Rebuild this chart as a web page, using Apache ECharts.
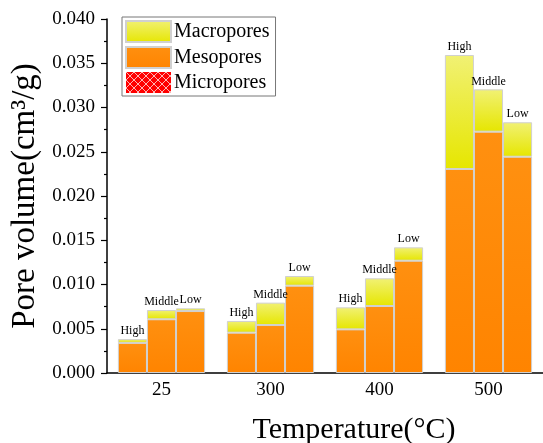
<!DOCTYPE html>
<html>
<head>
<meta charset="utf-8">
<script src="https://cdn.jsdelivr.net/npm/echarts@6/dist/echarts.min.js"></script>
<style>html,body{margin:0;padding:0;background:#fff}#c{width:543px;height:443px}</style>
</head>
<body>
<div id="c"></div>
<script>
const categories = ['25', '300', '400', '500'];
const levels = ['High', 'Middle', 'Low'];
const microHigh = [0, 0, 0, 0];
const microMiddle = [0, 0, 0, 0];
const microLow = [0, 0, 0, 0];
const mesoHigh = [0.00340, 0.00456, 0.00493, 0.02305];
const mesoMiddle = [0.00607, 0.00542, 0.00757, 0.02727];
const mesoLow = [0.00700, 0.00987, 0.01269, 0.02444];
const macroHigh = [0.00043, 0.00132, 0.00249, 0.01288];
const macroMiddle = [0.00105, 0.00253, 0.00313, 0.00478];
const macroLow = [0.00031, 0.00109, 0.00151, 0.00389];
const yTicks = [0, 0.005, 0.01, 0.015, 0.02, 0.025, 0.03, 0.035, 0.04];

const FONT = 'Liberation Serif';
const micro = {High: microHigh, Middle: microMiddle, Low: microLow};
const meso = {High: mesoHigh, Middle: mesoMiddle, Low: mesoLow};
const macro = {High: macroHigh, Middle: macroMiddle, Low: macroLow};

// crosshatch pattern for micropores
const pc = document.createElement('canvas');
pc.width = 8; pc.height = 8;
const px = pc.getContext('2d');
px.fillStyle = '#ff0000'; px.fillRect(0, 0, 8, 8);
px.strokeStyle = 'rgba(255,200,200,0.9)'; px.lineWidth = 1;
px.beginPath(); px.moveTo(0, 0); px.lineTo(8, 8); px.moveTo(8, 0); px.lineTo(0, 8); px.stroke();

const macroColor = {type: 'linear', x: 0, y: 0, x2: 0, y2: 1,
  colorStops: [{offset: 0, color: '#f1f174'}, {offset: 1, color: '#e6e600'}]};
const mesoColor = {type: 'linear', x: 0, y: 0, x2: 0, y2: 1,
  colorStops: [{offset: 0, color: '#ff9010'}, {offset: 1, color: '#ff8400'}]};

const series = [];
levels.forEach(lv => {
  series.push({name: 'Micropores', type: 'bar', stack: lv, data: micro[lv],
    barGap: '0%', barCategoryGap: '20%',
    itemStyle: {color: {image: pc, repeat: 'repeat'}, borderWidth: 0}});
  series.push({name: 'Mesopores', type: 'bar', stack: lv, data: meso[lv],
    barGap: '0%', barCategoryGap: '20%',
    itemStyle: {color: mesoColor, borderColor: '#d0d0d0', borderWidth: 1}});
  series.push({name: 'Macropores', type: 'bar', stack: lv, data: macro[lv],
    barGap: '0%', barCategoryGap: '20%',
    itemStyle: {color: macroColor, borderColor: '#d0d0d0', borderWidth: 1},
    label: {show: true, position: 'top', distance: 2, formatter: lv,
      fontFamily: FONT, fontSize: 12, color: '#000'}});
});

const chart = echarts.init(document.getElementById('c'), null, {renderer: 'canvas'});
chart.setOption({
  animation: false,
  backgroundColor: '#fff',
  grid: {left: 107, right: 0, top: 19, bottom: 70, containLabel: false, outerBoundsMode: 'none'},
  legend: {
    data: ['Macropores', 'Mesopores', 'Micropores'],
    orient: 'vertical', left: 122, top: 17,
    icon: 'rect', itemWidth: 45, itemHeight: 21, itemGap: 3,
    borderColor: '#777', borderWidth: 1, padding: [3, 6, 3, 3],
    textStyle: {fontFamily: FONT, fontSize: 20, color: '#000', padding: [0, 0, 0, -2]}
  },
  xAxis: {
    type: 'category', data: categories,
    axisLine: {lineStyle: {color: '#000', width: 1.5}},
    axisTick: {show: false},
    axisLabel: {fontFamily: FONT, fontSize: 19, color: '#000', margin: 8},
    name: 'Temperature(°C)', nameLocation: 'middle', nameGap: 42,
    nameTextStyle: {fontFamily: FONT, fontSize: 30, color: '#000', padding: [0, 0, 0, 58]}
  },
  yAxis: {
    type: 'value', min: yTicks[0], max: yTicks[yTicks.length - 1], interval: 0.005,
    axisLine: {show: true, lineStyle: {color: '#000', width: 1.5}},
    axisTick: {show: true, length: 6, lineStyle: {color: '#000', width: 1.2}},
    minorTick: {show: true, splitNumber: 2, length: 3, lineStyle: {color: '#000', width: 1.2}},
    splitLine: {show: false},
    axisLabel: {fontFamily: FONT, fontSize: 19, color: '#000', margin: 12,
      formatter: v => v.toFixed(3)},
    name: 'Pore volume(cm³/g)', nameLocation: 'middle', nameGap: 60,
    nameTextStyle: {fontFamily: FONT, fontSize: 33, color: '#000'}
  },
  series: series
});
</script>
</body>
</html>
